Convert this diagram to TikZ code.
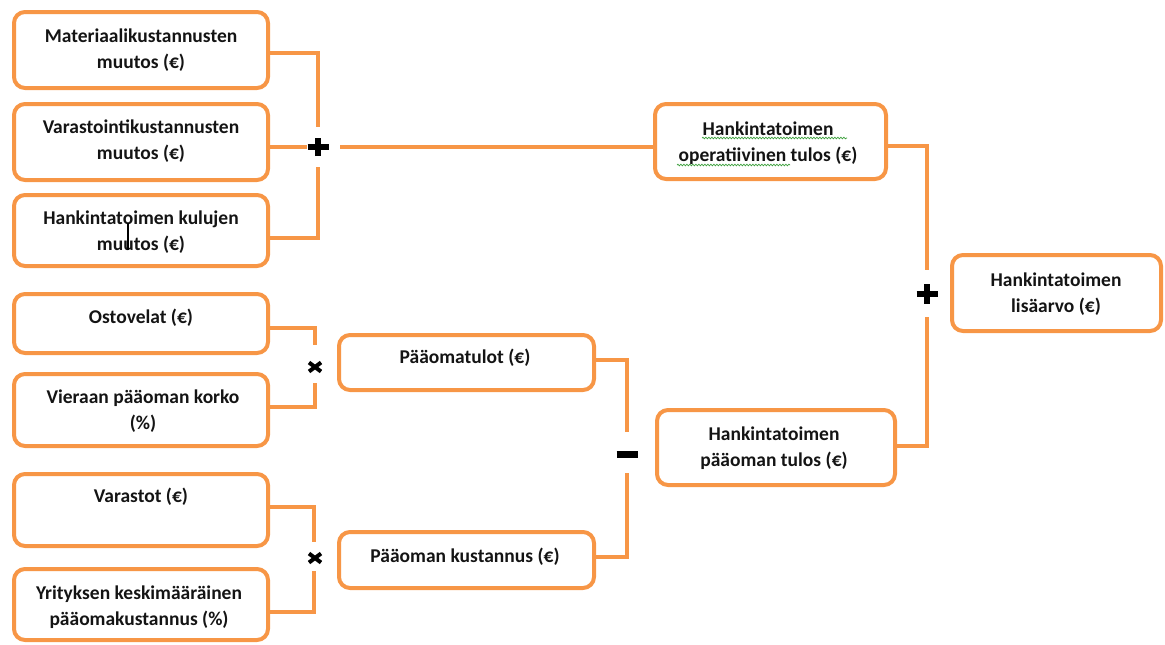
\documentclass[tikz,border=0pt]{standalone}
\usepackage{fontspec}
\setmainfont{Carlito}
\usetikzlibrary{decorations.pathmorphing}
\definecolor{org}{HTML}{F79646}
\definecolor{txt}{HTML}{141414}
\definecolor{spell}{HTML}{3CA03C}
\begin{document}
\begin{tikzpicture}[x=1pt,y=-1pt,
  box/.style={draw=org, line width=4pt, rounded corners=11pt, fill=white, inner sep=0pt},
  lbl/.style={font=\bfseries\fontsize{19.5}{26}\selectfont, text=txt, align=center, inner sep=0pt},
  conn/.style={draw=org, line width=4.2pt},
  opnode/.style={inner sep=0pt, minimum width=44pt},
  thick sign/.style={draw=black, line width=6pt},
  thin sign/.style={draw=black, line width=4pt},
  wavy/.style={draw=spell, line width=0.7pt, decorate, decoration={snake, amplitude=0.8pt, segment length=3pt}},
]
\useasboundingbox (0,0) rectangle (1165,645);

% boxes
\node[box, minimum width=254pt, minimum height=76pt] (b1) at (141,50) {};
\node[box, minimum width=254pt, minimum height=76pt] (b2) at (141,142) {};
\node[box, minimum width=254pt, minimum height=71pt] (b3) at (141,230.5) {};
\node[box, minimum width=254pt, minimum height=59pt] (b4) at (141,323.5) {};
\node[box, minimum width=254pt, minimum height=72pt] (b5) at (141,410) {};
\node[box, minimum width=254pt, minimum height=72pt] (b6) at (141,510) {};
\node[box, minimum width=254pt, minimum height=71pt] (b7) at (141,604.5) {};
\node[box, minimum width=255pt, minimum height=55pt] (b9) at (466.5,362.5) {};
\node[box, minimum width=255pt, minimum height=56pt] (b10) at (466.5,560) {};
\node[box, minimum width=231pt, minimum height=75pt] (b8) at (770.5,141.5) {};
\node[box, minimum width=238pt, minimum height=75pt] (b11) at (776,447.5) {};
\node[box, minimum width=209pt, minimum height=76pt] (b12) at (1056.5,293) {};

% labels
\node[lbl] (t1) at (141,50) {Materiaalikustannusten\\muutos (€)};
\node[lbl] (t2) at (141,141.5) {Varastointikustannusten\\muutos (€)};
\node[lbl] (t3) at (141,232) {Hankintatoimen kulujen\\muutos (€)};
\node[lbl] (t4) at (141,318) {Ostovelat (€)};
\node[lbl] (t5) at (143,411.5) {Vieraan pääoman korko\\(\%)};
\node[lbl] (t6) at (141,497) {Varastot (€)};
\node[lbl] (t7) at (139,607) {Yrityksen keskimääräinen\\pääomakustannus (\%)};
\node[lbl] (t9) at (465,358) {Pääomatulot (€)};
\node[lbl] (t10) at (465,557) {Pääoman kustannus (€)};
\node[lbl] (t8) at (768,143.5) {Hankintatoimen\\operatiivinen tulos (€)};
\node[lbl] (t11) at (774,448.5) {Hankintatoimen\\pääoman tulos (€)};
\node[lbl] (t12) at (1056,294) {Hankintatoimen\\lisäarvo (€)};

% operator nodes
\node[opnode, minimum height=40pt] (p1) at (318,147) {};
\node[opnode, minimum height=38pt] (m1) at (315,364) {};
\node[opnode, minimum height=28pt] (m2) at (314,556.5) {};
\node[opnode, minimum height=41pt] (n1) at (627,452.5) {};
\node[opnode, minimum height=47pt] (p2) at (927,293.5) {};

% connectors
\draw[conn] (b1.east |- 0,53) -| (p1.north);
\draw[conn] (b2.east |- p1.center) -- ([xshift=11pt]p1.west);
\draw[conn] (b3.east |- 0,238) -| (p1.south);
\draw[conn] (p1.east) -- (p1.east -| b8.west);
\draw[conn] (b4.east |- 0,328) -| (m1.north);
\draw[conn] (b5.east |- 0,407) -| (m1.south);
\draw[conn] (b6.east |- 0,507) -| (m2.north);
\draw[conn] (b7.east |- 0,612) -| (m2.south);
\draw[conn] (b9.east |- 0,360) -| (n1.north);
\draw[conn] (b10.east |- 0,557) -| (n1.south);
\draw[conn] (b8.east |- 0,146) -| (p2.north);
\draw[conn] (b11.east |- 0,446) -| (p2.south);

% operator signs
\draw[thick sign] ([xshift=-10.5pt]p1.center) -- ([xshift=10.5pt]p1.center);
\draw[thick sign] ([yshift=-9pt]p1.center) -- ([yshift=9pt]p1.center);
\draw[thick sign] ([xshift=-10.5pt]p2.center) -- ([xshift=10.5pt]p2.center);
\draw[thick sign] ([yshift=-10pt]p2.center) -- ([yshift=10pt]p2.center);
\draw[thin sign] (315,367) +(-6,-4.5) -- +(6,4.5);
\draw[thin sign] (315,367) +(-6,4.5) -- +(6,-4.5);
\draw[thin sign] (315,558) +(-6,-4.5) -- +(6,4.5);
\draw[thin sign] (315,558) +(-6,4.5) -- +(6,-4.5);
\draw[draw=black, line width=7pt] ([xshift=-10.5pt]n1.center |- 0,454) -- ([xshift=10.5pt]n1.center |- 0,454);

% spell-check underlines and text cursor
\draw[wavy] (702,138) -- (847,138);
\draw[wavy] (677,165) -- (790,165);
\draw[black, line width=1.6pt] (128,223) -- (128,250);
\end{tikzpicture}
\end{document}
